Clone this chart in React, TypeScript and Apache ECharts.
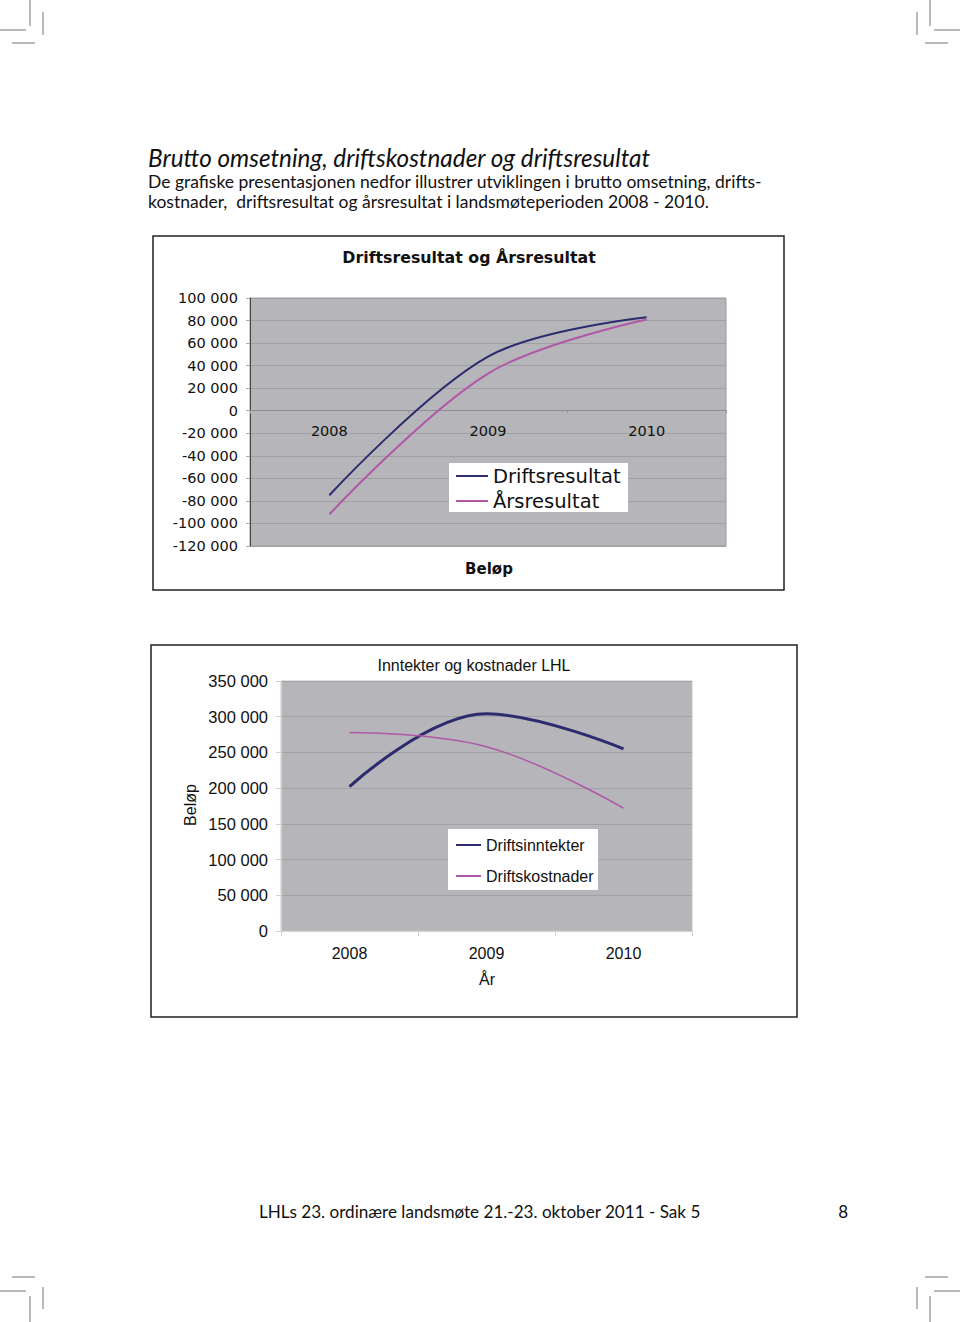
import React, { useEffect, useRef } from "react";
import * as echarts from "echarts";

const years = ["2008", "2009", "2010"];
const driftsresultat = [-75000, 48000, 83000];
const arsresultat = [-92000, 33000, 81000];
const driftsinntekter = [202000, 304000, 255000];
const driftskostnader = [278000, 258000, 172000];

const navy = "#2b2b6e";
const magenta = "#b157a8";
const plotBg = "#b6b6ba";

const fmt = (v: number) =>
  (v < 0 ? "-" : "") + Math.abs(v).toString().replace(/\B(?=(\d{3})+(?!\d))/g, " ");

const F1 = "'DejaVu Sans', sans-serif";
const F2 = "'Liberation Sans', Arial, sans-serif";
const FP = "Lato, 'Open Sans', sans-serif";

function cropMarks() {
  const c = "#8a8a8a";
  const L = (x1: number, y1: number, x2: number, y2: number) => ({
    type: "line",
    shape: { x1, y1, x2, y2 },
    style: { stroke: c, lineWidth: 1.2 },
    silent: true,
  });
  return [
    L(0, 30, 26, 30), L(30, 0, 30, 26), L(12, 43, 35, 43), L(43, 12, 43, 35),
    L(934, 30, 960, 30), L(930, 0, 930, 26), L(925, 43, 948, 43), L(917, 12, 917, 35),
    L(0, 1291, 26, 1291), L(30, 1296, 30, 1322), L(12, 1277, 35, 1277), L(43, 1287, 43, 1309),
    L(934, 1291, 960, 1291), L(930, 1296, 930, 1322), L(925, 1277, 948, 1277), L(917, 1287, 917, 1309),
  ];
}

export default function App() {
  const ref = useRef<HTMLDivElement>(null);
  useEffect(() => {
    if (!ref.current) return;
    const chart = echarts.init(ref.current, null, { renderer: "svg" });
    const option: any = {
      animation: false,
      backgroundColor: "#ffffff",
      grid: [
        { left: 250, top: 298, width: 476, height: 248, show: true, backgroundColor: plotBg, borderColor: "#9c9ca0", borderWidth: 1 },
        { left: 281, top: 681, width: 411, height: 250, show: true, backgroundColor: plotBg, borderColor: "#c4c4c8", borderWidth: 1 },
      ],
      xAxis: [
        {
          gridIndex: 0, type: "category", data: years,
          axisLine: { onZero: true, lineStyle: { color: "#8e8e92", width: 1 } },
          axisTick: { show: true, length: 3, lineStyle: { color: "#9a9a9e" } },
          axisLabel: { color: "#111", fontFamily: F1, fontSize: 14.5, inside: true, margin: 108 },
        },
        {
          gridIndex: 1, type: "category", data: years,
          axisLine: { lineStyle: { color: "#d2d2d2", width: 1 } },
          axisTick: { show: true, length: 5, lineStyle: { color: "#d2d2d2" } },
          axisLabel: { color: "#111", fontFamily: F2, fontSize: 16, margin: 14 },
        },
      ],
      yAxis: [
        {
          gridIndex: 0, type: "value", min: -120000, max: 100000, interval: 20000,
          axisLine: { show: true, lineStyle: { color: "#444", width: 1 } },
          axisTick: { show: true, length: 4, lineStyle: { color: "#aaa" } },
          axisLabel: { color: "#111", fontFamily: F1, fontSize: 14.5, margin: 12, formatter: fmt },
          splitLine: { lineStyle: { color: "#a0a0a4", width: 1 } },
        },
        {
          gridIndex: 1, type: "value", min: 0, max: 350000, interval: 50000,
          axisLine: { show: true, lineStyle: { color: "#d2d2d2", width: 1 } },
          axisTick: { show: true, length: 5, lineStyle: { color: "#d2d2d2" } },
          axisLabel: { color: "#111", fontFamily: F2, fontSize: 16.5, margin: 13, formatter: fmt },
          splitLine: { lineStyle: { color: "#a2a2a6", width: 1 } },
        },
      ],
      legend: [
        {
          orient: "vertical", left: 455, top: 466, padding: 0, itemGap: 5,
          itemWidth: 32, itemHeight: 14, z: 10,
          itemStyle: { opacity: 0 },
          data: ["Driftsresultat", "Årsresultat"],
          textStyle: { fontFamily: F1, fontSize: 19.5, color: "#111", lineHeight: 20 },
        },
        {
          orient: "vertical", left: 455, top: 835, padding: 0, itemGap: 11,
          itemWidth: 25, itemHeight: 14, z: 10,
          itemStyle: { opacity: 0 },
          data: ["Driftsinntekter", "Driftskostnader"],
          textStyle: { fontFamily: F2, fontSize: 16, color: "#111", lineHeight: 20 },
        },
      ],
      series: [
        { name: "Driftsresultat", type: "line", xAxisIndex: 0, yAxisIndex: 0, data: driftsresultat, smooth: 0.35, symbol: "none", color: navy, lineStyle: { color: navy, width: 2 } },
        { name: "Årsresultat", type: "line", xAxisIndex: 0, yAxisIndex: 0, data: arsresultat, smooth: 0.35, symbol: "none", color: magenta, lineStyle: { color: magenta, width: 2 } },
        { name: "Driftsinntekter", type: "line", xAxisIndex: 1, yAxisIndex: 1, data: driftsinntekter, smooth: 0.4, symbol: "none", color: navy, lineStyle: { color: navy, width: 3 } },
        { name: "Driftskostnader", type: "line", xAxisIndex: 1, yAxisIndex: 1, data: driftskostnader, smooth: 0.4, symbol: "none", color: magenta, lineStyle: { color: magenta, width: 1.5 } },
      ],
      graphic: [
        ...cropMarks(),
        { type: "text", x: 148, y: 157, style: { text: "Brutto omsetning, driftskostnader og driftsresultat", fontFamily: FP, fontStyle: "italic", fontSize: 24.3, fill: "#111", verticalAlign: "middle" } },
        { type: "text", x: 148, y: 181, style: { text: "De grafiske presentasjonen nedfor illustrer utviklingen i brutto omsetning, drifts-", fontFamily: FP, fontSize: 17.5, fill: "#111", verticalAlign: "middle" } },
        { type: "text", x: 148, y: 201, style: { text: "kostnader,  driftsresultat og årsresultat i landsmøteperioden 2008 - 2010.", fontFamily: FP, fontSize: 17.5, fill: "#111", verticalAlign: "middle" } },
        { type: "text", x: 259, y: 1211, style: { text: "LHLs 23. ordinære landsmøte 21.-23. oktober 2011 - Sak 5", fontFamily: FP, fontSize: 17.1, fill: "#111", verticalAlign: "middle" } },
        { type: "text", x: 848, y: 1211, style: { text: "8", fontFamily: FP, fontSize: 17, fill: "#111", align: "right", verticalAlign: "middle" } },
        // chart 1 frame
        { type: "rect", shape: { x: 153, y: 236, width: 631, height: 354 }, style: { fill: "none", stroke: "#222", lineWidth: 1.5 }, z: 1 },
        { type: "text", x: 469, y: 257, style: { text: "Driftsresultat og Årsresultat", fontFamily: F1, fontWeight: "bold", fontSize: 15.8, fill: "#111", align: "center", verticalAlign: "middle" } },
        { type: "text", x: 489, y: 569, style: { text: "Beløp", fontFamily: F1, fontWeight: "bold", fontSize: 15, fill: "#111", align: "center", verticalAlign: "middle" } },
        { type: "rect", shape: { x: 449, y: 463, width: 179, height: 49 }, style: { fill: "#ffffff" }, z: 5 },
        // chart 2 frame
        { type: "rect", shape: { x: 151, y: 645, width: 646, height: 372 }, style: { fill: "none", stroke: "#222", lineWidth: 1.5 }, z: 1 },
        { type: "text", x: 474, y: 665, style: { text: "Inntekter og kostnader LHL", fontFamily: F2, fontSize: 16, fill: "#111", align: "center", verticalAlign: "middle" } },
        { type: "text", x: 487, y: 979, style: { text: "År", fontFamily: F2, fontSize: 16, fill: "#111", align: "center", verticalAlign: "middle" } },
        { type: "text", x: 190, y: 805, rotation: Math.PI / 2, style: { text: "Beløp", fontFamily: F2, fontSize: 16, fill: "#111", align: "center", verticalAlign: "middle" } },
        { type: "rect", shape: { x: 448, y: 829, width: 150, height: 61 }, style: { fill: "#ffffff" }, z: 5 },
      ],
    };
    chart.setOption(option);
    return () => chart.dispose();
  }, []);
  return (
    <div
      ref={ref}
      style={{ position: "absolute", left: 0, top: 0, width: 960, height: 1322, background: "#fff" }}
    />
  );
}
